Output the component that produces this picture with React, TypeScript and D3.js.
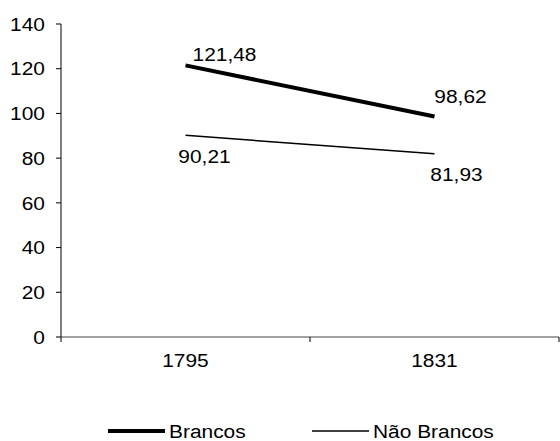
import React from "react";
import * as d3 from "d3";

const categories = ["1795", "1831"];
const brancos = [121.48, 98.62];
const naoBrancos = [90.21, 81.93];
const seriesNames = ["Brancos", "Não Brancos"];
const yTicks = [0, 20, 40, 60, 80, 100, 120, 140];

const W = 560, H = 441;
const left = 61, right = 559, top = 24, bottom = 337;
const font = "'Liberation Sans', Arial, sans-serif";
const fs = 19;
const sx = 1.1;

function T(props: { x: number; y: number; anchor?: "start" | "middle" | "end"; dy?: string; children: React.ReactNode }) {
  return (
    <text transform={`translate(${props.x},${props.y}) scale(${sx},1)`} dy={props.dy} textAnchor={props.anchor || "start"} fontSize={fs}>
      {props.children}
    </text>
  );
}

export default function App() {
  const x = d3.scaleBand<string>().domain(categories).range([left, right]);
  const y = d3.scaleLinear().domain([0, 140]).range([bottom, top]);
  const cx = (c: string) => (x(c) as number) + x.bandwidth() / 2;
  const line = d3.line<[string, number]>().x(d => cx(d[0])).y(d => y(d[1]));
  const series = [
    { name: seriesNames[0], values: brancos, width: 4, labelDx: [39, 26], labelDy: [-4.5, -14] },
    { name: seriesNames[1], values: naoBrancos, width: 1.5, labelDx: [19, 22], labelDy: [28, 27] },
  ];
  const fmt = (v: number) => v.toFixed(2).replace(".", ",");
  const xTickPos = [left, ...categories.slice(1).map(c => x(c) as number), right];
  return (
    <svg width={W} height={H} style={{ position: "absolute", left: 0, top: 0 }} fontFamily={font}>
      <rect width={W} height={H} fill="#fff" />
      <line x1={left} x2={left} y1={top} y2={bottom} stroke="#000" strokeWidth={1} />
      {yTicks.map(t => (
        <g key={t}>
          <line x1={left - 5} x2={left} y1={y(t)} y2={y(t)} stroke="#000" />
          <T x={left - 16} y={y(t)} dy="0.35em" anchor="end">{t}</T>
        </g>
      ))}
      <line x1={left} x2={right} y1={bottom} y2={bottom} stroke="#444" strokeWidth={1} />
      {xTickPos.map((p, i) => (
        <line key={i} x1={p} x2={p} y1={bottom} y2={bottom + 5} stroke="#000" />
      ))}
      {categories.map(c => (
        <T key={c} x={cx(c)} y={bottom + 30} anchor="middle">{c}</T>
      ))}
      {series.map(s => {
        const pts = categories.map((c, i) => [c, s.values[i]] as [string, number]);
        return (
          <g key={s.name}>
            <path d={line(pts) as string} fill="none" stroke="#000" strokeWidth={s.width} />
            {pts.map((p, i) => (
              <T key={i} x={cx(p[0]) + s.labelDx[i]} y={y(p[1]) + s.labelDy[i]} anchor="middle">{fmt(p[1])}</T>
            ))}
          </g>
        );
      })}
      {series.map((s, i) => {
        const lx = i === 0 ? 108 : 312;
        return (
          <g key={s.name}>
            <line x1={lx} x2={lx + 57} y1={431} y2={431} stroke="#000" strokeWidth={s.width} />
            <T x={lx + 61} y={438}>{s.name}</T>
          </g>
        );
      })}
    </svg>
  );
}
